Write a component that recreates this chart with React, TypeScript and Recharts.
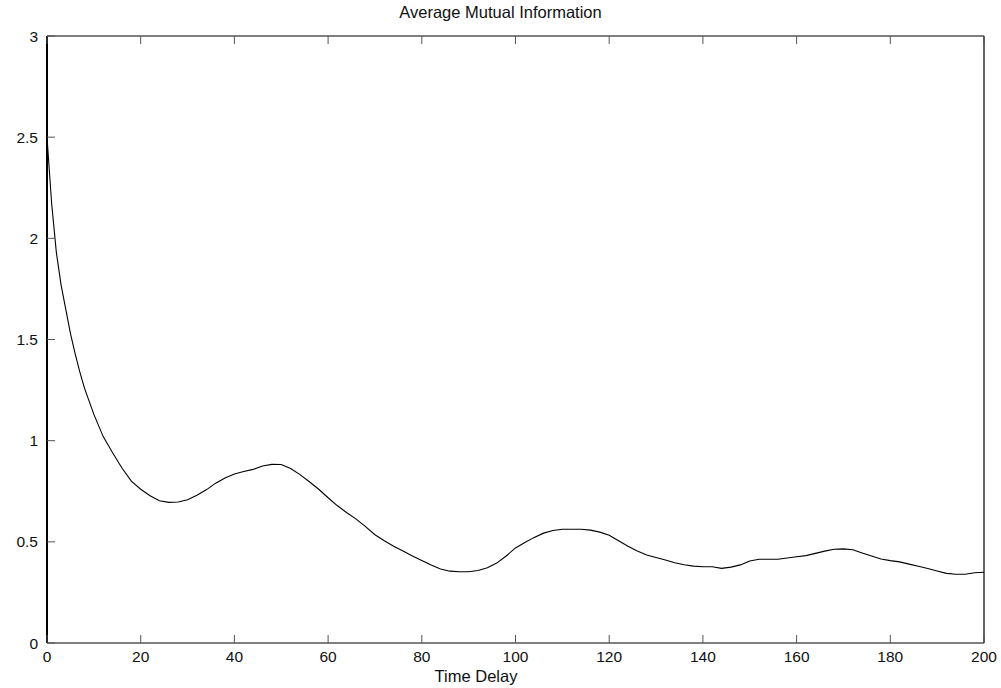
import { LineChart, Line, XAxis, YAxis } from "recharts";

const lags = [
  0, 1, 2, 3, 4, 5, 6, 7, 8, 10, 12, 14, 16, 18, 20, 22, 24, 26, 28, 30, 32, 34, 36, 38, 40,
  42, 44, 46, 48, 50, 52, 54, 56, 58, 60, 62, 64, 66, 68, 70, 72, 74, 76, 78, 80, 82, 84,
  86, 88, 90, 92, 94, 96, 98, 100, 102, 104, 106, 108, 110, 112, 114, 116, 118, 120, 122,
  124, 126, 128, 130, 132, 134, 136, 138, 140, 142, 144, 146, 148, 150, 152, 154, 156, 158,
  160, 162, 164, 166, 168, 170, 172, 174, 176, 178, 180, 182, 184, 186, 188, 190, 192, 194,
  196, 198, 200,
];

const mutualInfo = [
  2.5, 2.17, 1.93, 1.77, 1.65, 1.53, 1.43, 1.34, 1.26, 1.13, 1.02, 0.94, 0.865, 0.8, 0.76,
  0.728, 0.703, 0.695, 0.697, 0.708, 0.73, 0.757, 0.79, 0.815, 0.835, 0.848, 0.858, 0.875,
  0.883, 0.882, 0.862, 0.832, 0.797, 0.76, 0.718, 0.678, 0.644, 0.612, 0.575, 0.535, 0.505,
  0.478, 0.455, 0.43, 0.408, 0.385, 0.366, 0.355, 0.352, 0.352, 0.358, 0.372, 0.395, 0.43,
  0.47, 0.497, 0.522, 0.543, 0.556, 0.562, 0.562, 0.562, 0.558, 0.548, 0.533, 0.505, 0.478,
  0.455, 0.435, 0.423, 0.41, 0.397, 0.387, 0.38, 0.377, 0.377, 0.369, 0.375, 0.386, 0.405,
  0.414, 0.414, 0.414, 0.42, 0.426, 0.432, 0.443, 0.454, 0.463, 0.465, 0.461, 0.445, 0.43,
  0.415, 0.407, 0.401, 0.39, 0.379, 0.368, 0.356, 0.344, 0.34, 0.34, 0.347, 0.35,
];

const xTicks = [0, 20, 40, 60, 80, 100, 120, 140, 160, 180, 200];
const yTicks = [0, 0.5, 1, 1.5, 2, 2.5, 3];

const data = lags.map((lag, i) => ({ lag, ami: mutualInfo[i] }));

const FONT = "'Liberation Sans', Arial, Helvetica, sans-serif";
const TICK = 8;

const LeftTick = ({ x, y, payload }: any) => (
  <g>
    <line x1={x} x2={x + TICK} y1={y} y2={y} stroke="#555" />
    <text x={x - 9} y={y + 5.5} textAnchor="end" fontSize={15.5} fill="#111" fontFamily={FONT}>
      {payload.value}
    </text>
  </g>
);

const RightTick = ({ x, y }: any) => (
  <line x1={x - TICK} x2={x} y1={y} y2={y} stroke="#555" />
);

const BottomTick = ({ x, y, payload }: any) => (
  <g>
    <line x1={x} x2={x} y1={y} y2={y - TICK} stroke="#555" />
    <text x={x} y={y + 19} textAnchor="middle" fontSize={15.5} fill="#111" fontFamily={FONT}>
      {payload.value}
    </text>
  </g>
);

const TopTick = ({ x, y }: any) => (
  <line x1={x} x2={x} y1={y} y2={y + TICK} stroke="#555" />
);

export default function App() {
  return (
    <div style={{ position: "absolute", left: 0, top: 0, width: 1001, height: 688, background: "#fff" }}>
      <div
        style={{
          position: "absolute",
          top: 3,
          left: 0,
          width: 1001,
          textAlign: "center",
          fontFamily: FONT,
          fontSize: 16.5,
          color: "#111",
        }}
      >
        Average Mutual Information
      </div>
      <div
        style={{
          position: "absolute",
          top: 667,
          left: 0,
          width: 952,
          textAlign: "center",
          fontFamily: FONT,
          fontSize: 16.5,
          color: "#111",
        }}
      >
        Time Delay
      </div>
      <LineChart
        width={1001}
        height={688}
        data={data}
        margin={{ top: 0, right: 0, bottom: 0, left: 0 }}
      >
        <XAxis
          xAxisId={0}
          dataKey="lag"
          type="number"
          domain={[0, 200]}
          ticks={xTicks}
          height={45}
          tickSize={0}
          tickMargin={0}
          tickLine={false}
          tick={<BottomTick />}
          axisLine={{ stroke: "#000", strokeWidth: 1.2 }}
        />
        <XAxis
          xAxisId="top"
          orientation="top"
          dataKey="lag"
          type="number"
          domain={[0, 200]}
          ticks={xTicks}
          height={36}
          tickSize={0}
          tickMargin={0}
          tickLine={false}
          tick={<TopTick />}
          axisLine={{ stroke: "#000", strokeWidth: 1.2 }}
        />
        <YAxis
          yAxisId={0}
          type="number"
          domain={[0, 3]}
          ticks={yTicks}
          width={47}
          tickSize={0}
          tickMargin={0}
          tickLine={false}
          tick={<LeftTick />}
          axisLine={{ stroke: "#000", strokeWidth: 2 }}
        />
        <YAxis
          yAxisId="right"
          orientation="right"
          type="number"
          domain={[0, 3]}
          ticks={yTicks}
          width={17}
          tickSize={0}
          tickMargin={0}
          tickLine={false}
          tick={<RightTick />}
          axisLine={{ stroke: "#000", strokeWidth: 1.2 }}
        />
        <Line
          xAxisId={0}
          yAxisId={0}
          dataKey="ami"
          type="linear"
          stroke="#000"
          strokeWidth={1.1}
          dot={false}
          isAnimationActive={false}
        />
      </LineChart>
    </div>
  );
}
